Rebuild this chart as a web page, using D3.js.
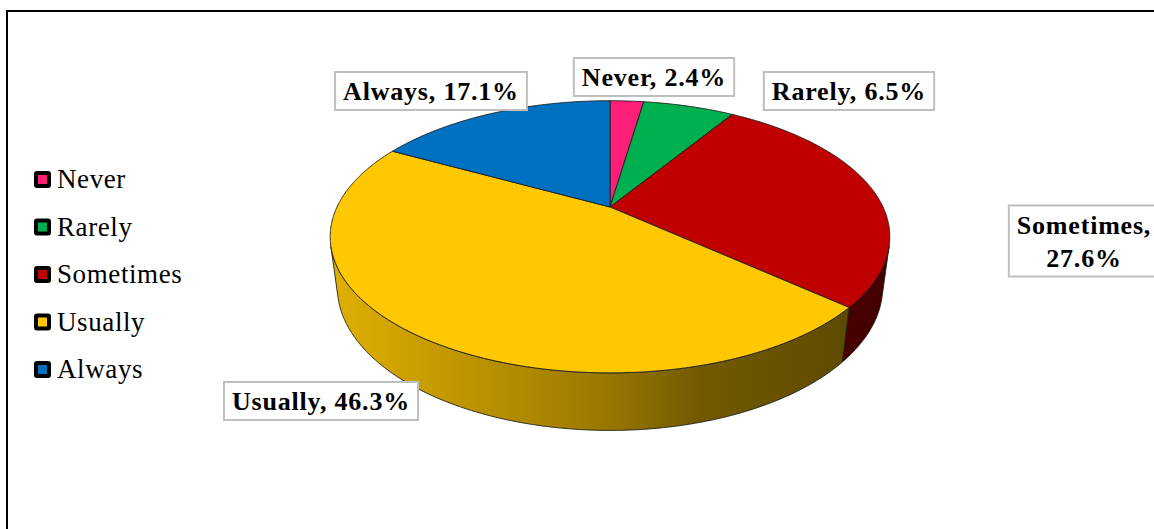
<!DOCTYPE html>
<html>
<head>
<meta charset="utf-8">
<script src="https://cdn.jsdelivr.net/npm/d3@7"></script>
<style>
  body { margin: 0; background: #fff; }
  svg { display: block; }
</style>
</head>
<body>
<svg id="chart" width="1154" height="529"></svg>
<script>
// Survey responses (share of respondents, %)
const categories = ["Never", "Rarely", "Sometimes", "Usually", "Always"];
const percentages = [2.4, 6.5, 27.6, 46.3, 17.1];
const colors = ["#FF1F78", "#00B050", "#C00000", "#FFC800", "#0070C0"];

const svg = d3.select("#chart");
const serif = "'Liberation Serif', 'Times New Roman', serif";

// Outer frame
svg.append("rect")
  .attr("x", 7).attr("y", 11)
  .attr("width", 1300).attr("height", 700)
  .attr("fill", "#fff").attr("stroke", "#000").attr("stroke-width", 2);

// ---- 3D pie: perspective projection of a disc seen from above ----
const cx = 610, cy = 207, k = 273;
const sinP = 0.4745, cosP = Math.sqrt(1 - sinP * sinP);
const D = 4.018;      // camera distance (in radii)
const depth = 0.21;   // thickness of the disc (in radii)

// theta: clockwise from the far point (12 o'clock), Y: 0 = top face, -depth = bottom
function proj(theta, Y) {
  const X = Math.sin(theta), Z = -Math.cos(theta);
  const yc = Y * cosP - Z * sinP;
  const zc = Y * sinP + Z * cosP;
  const s = D / (D - zc);
  return [cx + k * X * s, cy - k * yc * s];
}

const pie = d3.pie().sort(null).value(d => d)(percentages);
const line = d3.line();
const step = Math.PI / 360;

function sampleArc(a, b, Y) {
  const n = Math.max(2, Math.ceil(Math.abs(b - a) / step));
  return d3.range(n + 1).map(i => proj(a + (b - a) * i / n, Y));
}

// horizontal extent of the disc on screen, used for side shading
const rim = d3.range(0, 2 * Math.PI, step).map(t => proj(t, 0)[0]);
const xMin = d3.min(rim), xMax = d3.max(rim);

// side wall shading, light on the left, dark on the right
const sideShade = [[0, 0.88], [0.3, 0.71], [0.48, 0.61], [0.66, 0.45], [0.93, 0.37], [1, 0.35]];
const defs = svg.append("defs");
pie.forEach((p, i) => {
  const base = d3.rgb(colors[i]);
  const g = defs.append("linearGradient")
    .attr("id", "side-" + i)
    .attr("gradientUnits", "userSpaceOnUse")
    .attr("x1", xMin).attr("x2", xMax).attr("y1", 0).attr("y2", 0);
  sideShade.forEach(([o, f]) => {
    g.append("stop").attr("offset", o)
      .attr("stop-color", d3.rgb(base.r * f, base.g * f, base.b * f).formatHex());
  });
});

// visible part of the cylinder wall
const limit = Math.acos(-1 / (D * cosP));
const visA = limit, visB = 2 * Math.PI - limit;

const sides = svg.append("g");
pie.forEach((p, i) => {
  const a = Math.max(p.startAngle, visA), b = Math.min(p.endAngle, visB);
  if (b <= a) return;
  const pts = sampleArc(a, b, 0).concat(sampleArc(b, a, -depth));
  sides.append("path")
    .attr("d", line(pts) + "Z")
    .attr("fill", `url(#side-${i})`)
    .attr("stroke", "#1e1e1e").attr("stroke-width", 0.9)
    .attr("stroke-linejoin", "round");
});

// top faces
const tops = svg.append("g");
pie.forEach((p, i) => {
  const arcPts = sampleArc(p.startAngle, p.endAngle, 0);
  tops.append("path")
    .attr("d", line([[cx, cy]].concat(arcPts)) + "Z")
    .attr("fill", colors[i])
    .attr("stroke", "#1e1e1e").attr("stroke-width", 0.9)
    .attr("stroke-linejoin", "round");
});

// ---- Data labels ----
const labelPos = {
  "Never":     [654, 77],
  "Rarely":    [849, 91],
  "Sometimes": [1084, 241],
  "Usually":   [321, 401],
  "Always":    [431, 91]
};
const labels = svg.append("g")
  .attr("font-family", serif).attr("font-weight", "bold")
  .attr("font-size", 26).attr("fill", "#000");

categories.forEach((cat, i) => {
  const [lx, ly] = labelPos[cat];
  const value = percentages[i].toFixed(1) + "%";
  const lines = cat === "Sometimes" ? [cat + ",", value] : [cat + ", " + value];
  const g = labels.append("g");
  const t = g.append("text")
    .attr("text-anchor", "middle")
    .attr("letter-spacing", 0.8);
  const lh = 33;
  lines.forEach((s, j) => {
    t.append("tspan")
      .attr("x", lx)
      .attr("y", ly + 9 + (j - (lines.length - 1) / 2) * lh)
      .text(s);
  });
  const bb = t.node().getBBox();
  g.insert("rect", "text")
    .attr("x", bb.x - 8).attr("y", bb.y - 5)
    .attr("width", bb.width + 16).attr("height", bb.height + 9)
    .attr("fill", "#fff").attr("stroke", "#bfbfbf").attr("stroke-width", 2);
});

// ---- Legend ----
const legendY = d3.scalePoint().domain(categories).range([179, 369]);
const legend = svg.append("g").attr("font-family", serif).attr("font-size", 27);
categories.forEach((cat, i) => {
  const y = legendY(cat);
  legend.append("rect")
    .attr("x", 34).attr("y", y - 8).attr("width", 17).attr("height", 17)
    .attr("rx", 3).attr("fill", "#000");
  legend.append("rect")
    .attr("x", 38).attr("y", y - 4).attr("width", 9).attr("height", 9)
    .attr("fill", colors[i]);
  legend.append("text")
    .attr("x", 57).attr("y", y + 9)
    .attr("letter-spacing", 0.6)
    .text(cat);
});
</script>
</body>
</html>
